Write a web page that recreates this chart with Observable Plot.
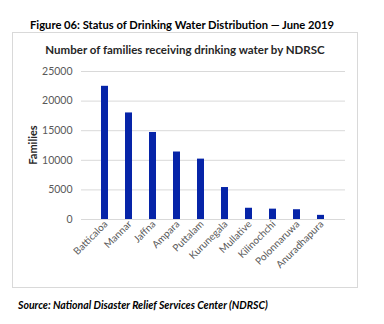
<!DOCTYPE html>
<html>
<head>
<meta charset="utf-8">
<script src="https://cdn.jsdelivr.net/npm/d3@7"></script>
<script src="https://cdn.jsdelivr.net/npm/@observablehq/plot@0.6"></script>
<style>
  html, body { margin: 0; padding: 0; background: #fff; }
  #page { position: relative; width: 384px; height: 324px; overflow: hidden; font-family: Lato, "Open Sans", sans-serif; }
  #figtitle { position: absolute; left: 30px; top: 18px; font-weight: bold; font-size: 11.2px; color: #000; white-space: nowrap; }
  #box { position: absolute; left: 12px; top: 32px; width: 344px; height: 254px; border: 1px solid #d9d9d9; }
  #charttitle { position: absolute; left: 0; width: 370px; top: 43px; text-align: center; font-weight: bold; font-size: 11.5px; color: #262626; white-space: nowrap; }
  #ylabel { position: absolute; left: 32px; top: 145px; transform: translate(-50%, -50%) rotate(-90deg); font-weight: bold; font-size: 11px; color: #262626; white-space: nowrap; }
  #chart { position: absolute; left: 0; top: 60px; }
  #source { position: absolute; left: 18px; top: 299px; font-weight: bold; font-style: italic; font-size: 10.5px; color: #000; white-space: nowrap; }
</style>
</head>
<body>
<div id="page">
  <div id="figtitle">Figure 06: Status of Drinking Water Distribution — June 2019</div>
  <div id="box"></div>
  <div id="charttitle">Number of families receiving drinking water by NDRSC</div>
  <div id="ylabel">Families</div>
  <div id="chart"></div>
  <div id="source">Source: National Disaster Relief Services Center (NDRSC)</div>
</div>
<script>
const districts = ["Batticaloa", "Mannar", "Jaffna", "Ampara", "Puttalam", "Kurunegala", "Mullative", "Kilinochchi", "Polonnaruwa", "Anuradhapura"];
const families = [22500, 18000, 14700, 11400, 10200, 5400, 1900, 1750, 1650, 700];
const yTicks = [0, 5000, 10000, 15000, 20000, 25000];

const data = districts.map((d, i) => ({district: d, families: families[i]}));

const plot = Plot.plot({
  width: 384,
  height: 240,
  marginLeft: 81,
  marginRight: 39,
  marginTop: 11,
  marginBottom: 81,
  style: { background: "transparent", fontFamily: "Lato, 'Open Sans', sans-serif", color: "#595959" },
  x: { domain: districts, padding: 0.69, label: null },
  y: { domain: [0, 25000], ticks: yTicks, label: null },
  marks: [
    Plot.gridY(yTicks, { stroke: "#d9d9d9", strokeOpacity: 1, strokeWidth: 1 }),
    Plot.axisY({ ticks: yTicks, tickSize: 0, tickPadding: 9, fontSize: 10.5, label: null, tickFormat: d => String(d) }),
    Plot.barY(data, { x: "district", y: "families", fill: "#0624a8" }),
    Plot.axisX({ tickSize: 0, tickPadding: 3, tickRotate: -45, fontSize: 10, label: null, dx: 1 })
  ]
});
document.getElementById("chart").appendChild(plot);
</script>
</body>
</html>
